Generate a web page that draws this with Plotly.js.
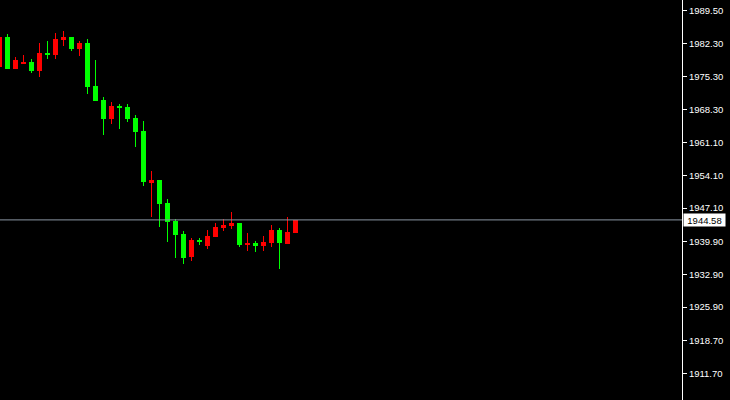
<!DOCTYPE html>
<html>
<head>
<meta charset="utf-8">
<script src="https://cdn.plot.ly/plotly-3.0.1.min.js"></script>
<style>
html,body{margin:0;padding:0;background:#000;}
#chart{width:730px;height:400px;}
#chart .bars path{shape-rendering:crispEdges;}
</style>
</head>
<body>
<div id="chart"></div>
<script>
// Bar index (one per candle)
const barIndex = [0,1,2,3,4,5,6,7,8,9,10,11,12,13,14,15,16,17,18,19,20,21,22,23,24,25,26,27,28,29,30,31,32,33,34,35,36,37];
const openP  = [1977.35,1983.78,1976.92,1977.99,1978.42,1976.49,1980.35,1979.92,1983.13,1983.78,1981.21,1982.49,1973.28,1970.28,1966.20,1968.99,1968.78,1966.42,1963.63,1952.49,1953.13,1948.20,1944.34,1941.56,1936.63,1940.27,1938.99,1940.91,1942.84,1943.27,1943.91,1939.20,1939.63,1938.99,1939.63,1942.41,1939.41,1941.77];
const highP  = [1983.78,1984.42,1979.49,1979.92,1979.06,1982.49,1982.92,1984.64,1985.06,1983.78,1982.92,1983.35,1978.85,1970.92,1969.85,1969.42,1969.42,1967.06,1965.78,1955.06,1953.13,1949.06,1944.77,1942.20,1940.70,1940.70,1942.41,1943.91,1944.77,1946.27,1943.91,1941.77,1940.06,1941.13,1943.49,1942.84,1945.20,1944.58];
const lowP   = [1977.35,1976.92,1976.92,1977.99,1976.06,1975.21,1979.06,1979.06,1981.85,1980.78,1979.71,1971.56,1970.06,1962.78,1965.13,1964.06,1965.56,1960.20,1951.84,1945.20,1943.06,1939.84,1936.41,1935.13,1935.77,1939.20,1938.34,1940.91,1942.20,1942.63,1938.77,1937.91,1937.70,1937.91,1938.77,1934.06,1939.41,1941.77];
const closeP = [1983.78,1976.92,1978.85,1978.42,1976.49,1980.35,1979.92,1983.35,1983.78,1981.21,1982.49,1973.06,1970.06,1966.20,1968.99,1968.56,1966.20,1963.42,1952.70,1953.13,1947.99,1944.13,1941.34,1936.41,1940.27,1939.84,1941.13,1943.06,1943.49,1943.91,1939.20,1939.63,1938.99,1939.84,1942.41,1939.63,1941.99,1944.58];
const bidPrice = 1944.58;
const tickValues = [1989.50,1982.30,1975.30,1968.30,1961.10,1954.10,1947.10,1939.90,1932.90,1925.90,1918.70,1911.70];
const tickLabels = ['1989.50','1982.30','1975.30','1968.30','1961.10','1954.10','1947.10','1939.90','1932.90','1925.90','1918.70','1911.70'];

const UP = '#ff0000', DOWN = '#00ff00';
const colors = closeP.map((c,i) => c >= openP[i] ? UP : DOWN);

const wicks = {
  type: 'bar', x: barIndex,
  base: lowP, y: highP.map((h,i) => h - lowP[i]),
  width: 0.125, marker: {color: colors, line: {width: 0}},
  hoverinfo: 'skip', showlegend: false
};
const bodies = {
  type: 'bar', x: barIndex,
  base: closeP.map((c,i) => Math.min(c, openP[i])),
  y: closeP.map((c,i) => Math.max(Math.abs(c - openP[i]), 0.15)),
  width: 0.625, marker: {color: colors, line: {width: 0}},
  hoverinfo: 'skip', showlegend: false
};

const layout = {
  width: 730, height: 400,
  margin: {l: 0, r: 48, t: 0, b: 0},
  paper_bgcolor: '#000000', plot_bgcolor: '#000000',
  barmode: 'overlay', bargap: 0,
  showlegend: false,
  xaxis: {range: [0.0625, 85.3125], visible: false, fixedrange: true},
  yaxis: {
    side: 'right', range: [1905.98, 1991.71],
    tickvals: tickValues, ticktext: tickLabels,
    showgrid: false, zeroline: false,
    showline: true, linecolor: '#ffffff', linewidth: 1,
    ticks: 'outside', ticklen: 4, tickwidth: 1, tickcolor: '#ffffff',
    tickfont: {family: 'Liberation Sans, Arial, sans-serif', size: 9.5, color: '#ffffff'},
    fixedrange: true
  },
  shapes: [{
    type: 'line', xref: 'paper', x0: 0, x1: 1, yref: 'y', y0: bidPrice, y1: bidPrice,
    line: {color: '#8a96a4', width: 1}
  }],
  annotations: [{
    xref: 'paper', x: 1, xanchor: 'left', xshift: 1,
    yref: 'y', y: bidPrice, yanchor: 'middle',
    text: bidPrice.toFixed(2), showarrow: false,
    width: 39, height: 10, align: 'center',
    bgcolor: '#ffffff', borderpad: 1,
    font: {family: 'Liberation Sans, Arial, sans-serif', size: 9.5, color: '#000000'}
  }]
};

Plotly.newPlot('chart', [wicks, bodies], layout, {staticPlot: true, displayModeBar: false});
</script>
</body>
</html>
